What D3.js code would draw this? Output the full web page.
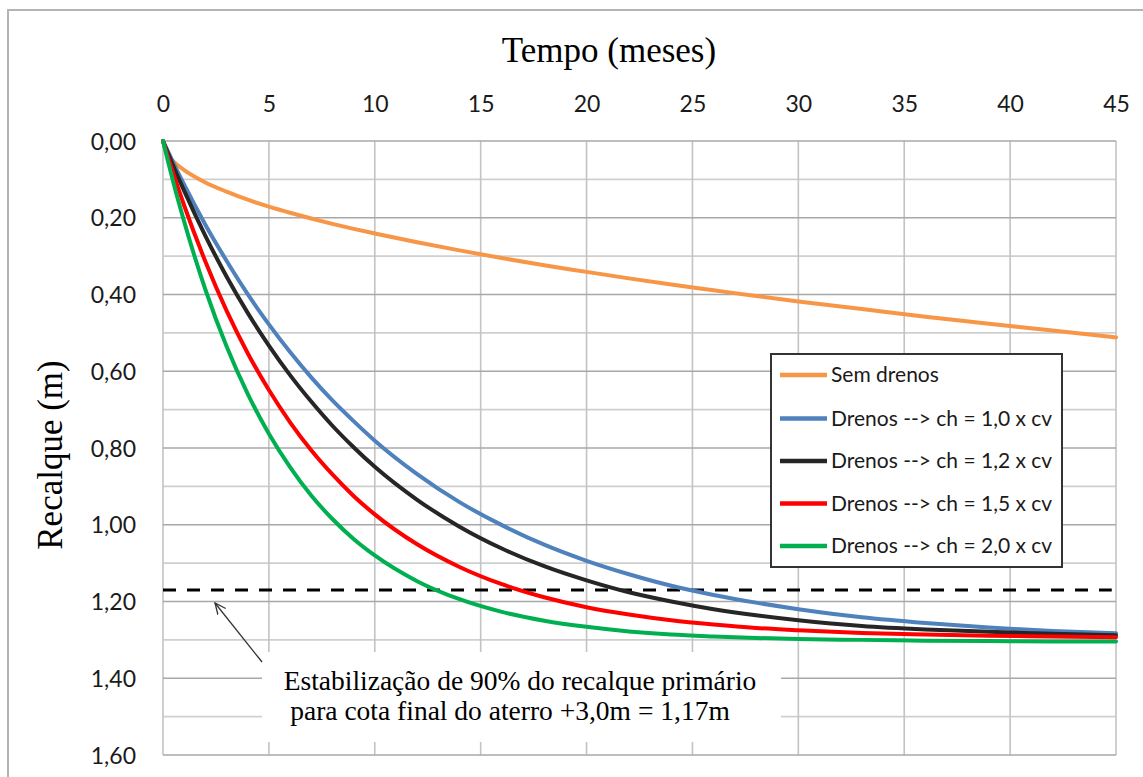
<!DOCTYPE html>
<html>
<head>
<meta charset="utf-8">
<script src="https://cdn.jsdelivr.net/npm/d3@7"></script>
<style>
  html, body { margin: 0; padding: 0; background: #ffffff; }
  svg { display: block; }
</style>
</head>
<body>
<svg id="chart" width="1143" height="777"></svg>
<script>
// ---------------- DATA ----------------
const months = [0, 0.25, 0.5, 1, 2, 3, 4, 5, 6, 7, 8, 9, 10, 12, 14, 16, 18, 20, 22, 24, 26, 28, 30, 33, 36, 39, 42, 45];

const semDrenos = [0, 0.038, 0.054, 0.076, 0.108, 0.132, 0.153, 0.171, 0.187, 0.202, 0.216, 0.229, 0.241, 0.264, 0.285, 0.305, 0.324, 0.341, 0.358, 0.374, 0.389, 0.404, 0.418, 0.438, 0.458, 0.476, 0.494, 0.512];
const drenos10 = [0, 0.029, 0.058, 0.114, 0.218, 0.312, 0.399, 0.478, 0.550, 0.616, 0.676, 0.730, 0.781, 0.868, 0.941, 1.001, 1.052, 1.094, 1.129, 1.159, 1.183, 1.203, 1.220, 1.241, 1.256, 1.268, 1.277, 1.283];
const drenos12 = [0, 0.034, 0.067, 0.130, 0.247, 0.353, 0.448, 0.533, 0.610, 0.679, 0.742, 0.798, 0.849, 0.935, 1.005, 1.062, 1.108, 1.145, 1.176, 1.200, 1.220, 1.236, 1.249, 1.264, 1.273, 1.279, 1.284, 1.288];
const drenos15 = [0, 0.044, 0.087, 0.168, 0.314, 0.442, 0.553, 0.649, 0.733, 0.806, 0.869, 0.925, 0.973, 1.051, 1.110, 1.155, 1.189, 1.215, 1.234, 1.249, 1.260, 1.269, 1.275, 1.282, 1.286, 1.289, 1.291, 1.293];
const drenos20 = [0, 0.056, 0.110, 0.210, 0.387, 0.535, 0.659, 0.763, 0.850, 0.924, 0.985, 1.037, 1.080, 1.147, 1.194, 1.227, 1.250, 1.266, 1.278, 1.286, 1.291, 1.295, 1.298, 1.300, 1.302, 1.303, 1.304, 1.304];

const seriesNames = ["Sem drenos", "Drenos --> ch = 1,0 x cv", "Drenos --> ch = 1,2 x cv", "Drenos --> ch = 1,5 x cv", "Drenos --> ch = 2,0 x cv"];
const seriesColors = ["#F79646", "#4F81BD", "#262626", "#FF0000", "#00B050"];
const seriesValues = [semDrenos, drenos10, drenos12, drenos15, drenos20];

const xTicks = [0, 5, 10, 15, 20, 25, 30, 35, 40, 45];
const yTicks = [0, 0.2, 0.4, 0.6, 0.8, 1.0, 1.2, 1.4, 1.6];
const yTickLabels = ["0,00", "0,20", "0,40", "0,60", "0,80", "1,00", "1,20", "1,40", "1,60"];
const yMinorTicks = [0.1, 0.3, 0.5, 0.7, 0.9, 1.1, 1.3, 1.5];

const targetSettlement = 1.17;
const xTitle = "Tempo (meses)";
const yTitle = "Recalque (m)";
const noteLines = ["Estabilização de 90% do recalque primário", "para cota final do aterro +3,0m = 1,17m"];

// ---------------- LAYOUT ----------------
const svg = d3.select("#chart");
const plotLeft = 163, plotRight = 1116, plotTop = 141, plotBottom = 755;

const x = d3.scaleLinear().domain([0, 45]).range([plotLeft, plotRight]);
const y = d3.scaleLinear().domain([0, 1.6]).range([plotTop, plotBottom]);

// outer frame
svg.append("rect")
  .attr("x", 8).attr("y", 10).attr("width", 1160).attr("height", 820)
  .attr("fill", "#ffffff").attr("stroke", "#b4b4b4").attr("stroke-width", 2);

// grid
const grid = svg.append("g");
grid.selectAll("line.minor").data(yMinorTicks).enter().append("line")
  .attr("x1", plotLeft).attr("x2", plotRight)
  .attr("y1", d => y(d)).attr("y2", d => y(d))
  .attr("stroke", "#cfcfcf").attr("stroke-width", 1.6);
grid.selectAll("line.vert").data(xTicks).enter().append("line")
  .attr("x1", d => x(d)).attr("x2", d => x(d))
  .attr("y1", plotTop).attr("y2", plotBottom)
  .attr("stroke", "#c3c3c3").attr("stroke-width", 1.6);
grid.selectAll("line.major").data(yTicks).enter().append("line")
  .attr("x1", plotLeft).attr("x2", plotRight)
  .attr("y1", d => y(d)).attr("y2", d => y(d))
  .attr("stroke", "#a8a8a8").attr("stroke-width", 1.6);

// axes (labels only)
const xAxis = d3.axisTop(x).tickValues(xTicks).tickSize(0).tickPadding(0).tickFormat(d3.format("d"));
const gx = svg.append("g").attr("transform", `translate(0, 112)`).call(xAxis);
gx.select(".domain").remove();
gx.selectAll("text").attr("font-family", "Lato, 'Open Sans', sans-serif").attr("font-size", 23).attr("fill", "#1a1a1a").attr("dy", 0);

const yAxis = d3.axisLeft(y).tickValues(yTicks).tickSize(0).tickPadding(0).tickFormat((d, i) => yTickLabels[i]);
const gy = svg.append("g").attr("transform", `translate(136, 0)`).call(yAxis);
gy.select(".domain").remove();
gy.selectAll("text").attr("font-family", "Lato, 'Open Sans', sans-serif").attr("font-size", 23).attr("fill", "#1a1a1a").attr("dy", "0.35em");

// axis titles
svg.append("text").attr("x", 609).attr("y", 62).attr("text-anchor", "middle")
  .attr("font-family", "'Liberation Serif', 'Times New Roman', serif").attr("font-size", 35).attr("fill", "#000")
  .text(xTitle);
svg.append("text").attr("transform", "translate(62,455) rotate(-90)").attr("text-anchor", "middle")
  .attr("font-family", "'Liberation Serif', 'Times New Roman', serif").attr("font-size", 35).attr("fill", "#000")
  .text(yTitle);

// target dashed line
svg.append("line")
  .attr("x1", x(0)).attr("x2", x(44.8))
  .attr("y1", y(targetSettlement)).attr("y2", y(targetSettlement))
  .attr("stroke", "#000").attr("stroke-width", 3).attr("stroke-dasharray", "13,11");

// curves
const line = d3.line().curve(d3.curveMonotoneX);
const curves = svg.append("g");
seriesValues.forEach((vals, i) => {
  const pts = months.map((m, j) => [x(m), y(vals[j])]);
  curves.append("path")
    .attr("d", line(pts))
    .attr("fill", "none")
    .attr("stroke", seriesColors[i])
    .attr("stroke-width", 4)
    .attr("stroke-linejoin", "round")
    .attr("stroke-linecap", "round");
});

// annotation: white box, text, arrow
svg.append("rect").attr("x", 262).attr("y", 652).attr("width", 519).attr("height", 90).attr("fill", "#ffffff");
const note = svg.append("text")
  .attr("font-family", "'Liberation Serif', 'Times New Roman', serif").attr("font-size", 27.5).attr("fill", "#000");
note.append("tspan").attr("x", 520).attr("y", 690).attr("text-anchor", "middle").text(noteLines[0]);
note.append("tspan").attr("x", 510).attr("y", 720).attr("text-anchor", "middle").text(noteLines[1]);

svg.append("defs").append("marker")
  .attr("id", "arrowOpen").attr("viewBox", "0 0 12 12").attr("refX", 11).attr("refY", 6)
  .attr("markerWidth", 12).attr("markerHeight", 12).attr("markerUnits", "userSpaceOnUse").attr("orient", "auto")
  .append("path").attr("d", "M0,1 L11,6 L0,11").attr("fill", "none").attr("stroke", "#333").attr("stroke-width", 1.3);
svg.append("line")
  .attr("x1", 262).attr("y1", 662).attr("x2", 215).attr("y2", 603)
  .attr("stroke", "#333").attr("stroke-width", 1.3).attr("marker-end", "url(#arrowOpen)");

// legend
const lg = svg.append("g");
lg.append("rect").attr("x", 771).attr("y", 354).attr("width", 291).attr("height", 213)
  .attr("fill", "#ffffff").attr("stroke", "#333").attr("stroke-width", 2);
const legendY = [375, 418.5, 461, 503.5, 546];
seriesNames.forEach((name, i) => {
  lg.append("line").attr("x1", 780).attr("x2", 827).attr("y1", legendY[i]).attr("y2", legendY[i])
    .attr("stroke", seriesColors[i]).attr("stroke-width", 4.5);
  lg.append("text").attr("x", 831).attr("y", legendY[i]).attr("dy", "0.35em")
    .attr("font-family", "Lato, 'Open Sans', sans-serif").attr("font-size", 21).attr("fill", "#1a1a1a")
    .text(name);
});
</script>
</body>
</html>
